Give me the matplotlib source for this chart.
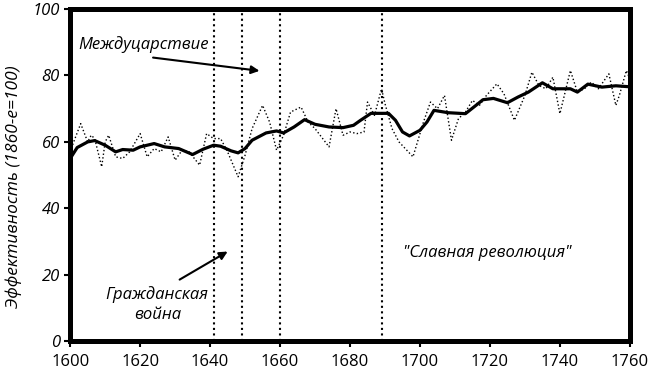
import matplotlib
matplotlib.use("Agg")
import matplotlib.pyplot as plt

plt.rcParams['font.family'] = ['Open Sans', 'DejaVu Sans']

# smoothed series (thick line)
trend_years = [1600, 1602, 1605, 1607, 1610, 1613, 1615, 1618, 1620, 1624, 1627, 1631, 1635,
               1638, 1641, 1643, 1646, 1648, 1650, 1652, 1656, 1659, 1661, 1664, 1667, 1670,
               1674, 1678, 1681, 1683, 1686, 1691, 1693, 1695, 1697, 1700, 1702, 1704, 1708,
               1713, 1716, 1718, 1721, 1725, 1728, 1731, 1735, 1738, 1743, 1745, 1748, 1752,
               1756, 1760]
trend_vals = [55, 58.3, 60, 60.4, 59, 57, 57.7, 57.5, 58.5, 59.5, 58.5, 58, 56.2,
              57.8, 59, 58.7, 57.3, 56.7, 58, 60.5, 62.7, 63.3, 62.7, 64.5, 66.7, 65.3,
              64.5, 64.3, 65, 66.5, 68.6, 68.6, 66.5, 63, 61.8, 63.5, 66, 69.5, 68.8,
              68.5, 71, 72.7, 73.1, 71.8, 73.5, 75, 77.8, 76, 76, 75, 77.4, 76.5,
              76.9, 76.6]

# yearly series (thin dotted line)
raw_years = [1600, 1601, 1603, 1605, 1606, 1607, 1609, 1610, 1611, 1613, 1615, 1617, 1620,
             1622, 1624, 1626, 1628, 1630, 1632, 1634, 1637, 1639, 1641, 1643, 1645, 1648,
             1650, 1652, 1655, 1657, 1659, 1661, 1663, 1666, 1668, 1670, 1674, 1676, 1678,
             1680, 1682, 1684, 1685, 1687, 1689, 1690, 1692, 1694, 1698, 1701, 1703, 1705,
             1707, 1709, 1711, 1713, 1715, 1717, 1719, 1722, 1724, 1727, 1730, 1732, 1734,
             1736, 1738, 1740, 1743, 1745, 1747, 1749, 1751, 1754, 1756, 1757, 1759, 1760]
raw_vals = [57, 60, 65.5, 60, 62, 61, 52.5, 60, 62, 55.5, 55, 57, 62.5,
            55.5, 58, 57, 61.5, 54.5, 57.5, 57, 53, 62.5, 61, 61, 57, 49.5,
            56, 64, 71, 66, 57.5, 62, 69, 70.5, 66, 64, 58.5, 70, 62,
            63, 62.5, 63, 72, 68, 76, 71.5, 64, 60, 55.5, 66, 72, 70,
            74, 60.5, 67, 69, 72.5, 71, 74, 77.5, 74.5, 66.5, 74, 81, 77,
            76, 79.5, 68.5, 81.5, 75, 76, 78, 76, 80.5, 71, 74, 81.5, 79]

events = [1641, 1649, 1660, 1689]

fig = plt.figure(figsize=(6.5, 3.79), dpi=100)
ax = fig.add_axes([0.108, 0.100, 0.861, 0.876])

for yr in events:
    ax.axvline(yr, color='black', linestyle=':', linewidth=1.5, zorder=1)

ax.plot(raw_years, raw_vals, color='black', linestyle=':', linewidth=1.0, zorder=2)
ax.plot(trend_years, trend_vals, color='black', linewidth=2.3, zorder=3)

ax.set_xlim(1600, 1760)
ax.set_ylim(0, 100)
ax.set_xticks(range(1600, 1761, 20))
ax.set_yticks(range(0, 101, 20))
ax.tick_params(axis='both', direction='out', length=4, width=1.5, labelsize=12)
ax.tick_params(axis='x', pad=5)
for lab in ax.get_yticklabels():
    lab.set_fontstyle('italic')
for sp in ax.spines.values():
    sp.set_linewidth(3.6)

ax.set_ylabel('Эффективность (1860-е=100)', fontstyle='italic', fontsize=12.5)
ax.yaxis.set_label_coords(-0.086, 0.464)

ax.annotate('', xy=(1654.9, 81.3), xytext=(1622.9, 85.5),
            arrowprops=dict(arrowstyle='-|>', color='black', lw=1.5, mutation_scale=12))
ax.text(1620.9, 89.2, 'Междуцарствие', fontstyle='italic', fontsize=12,
        ha='center', va='center')

ax.annotate('', xy=(1645.7, 27.4), xytext=(1630.6, 18.1),
            arrowprops=dict(arrowstyle='-|>', color='black', lw=1.5, mutation_scale=12))
ax.text(1624.9, 11.1, 'Гражданская\nвойна', fontstyle='italic', fontsize=12,
        ha='center', va='center', linespacing=1.3)

ax.text(1719.1, 26.5, '"Славная революция"', fontstyle='italic', fontsize=12,
        ha='center', va='center')

fig.savefig('out.png', dpi=100)
